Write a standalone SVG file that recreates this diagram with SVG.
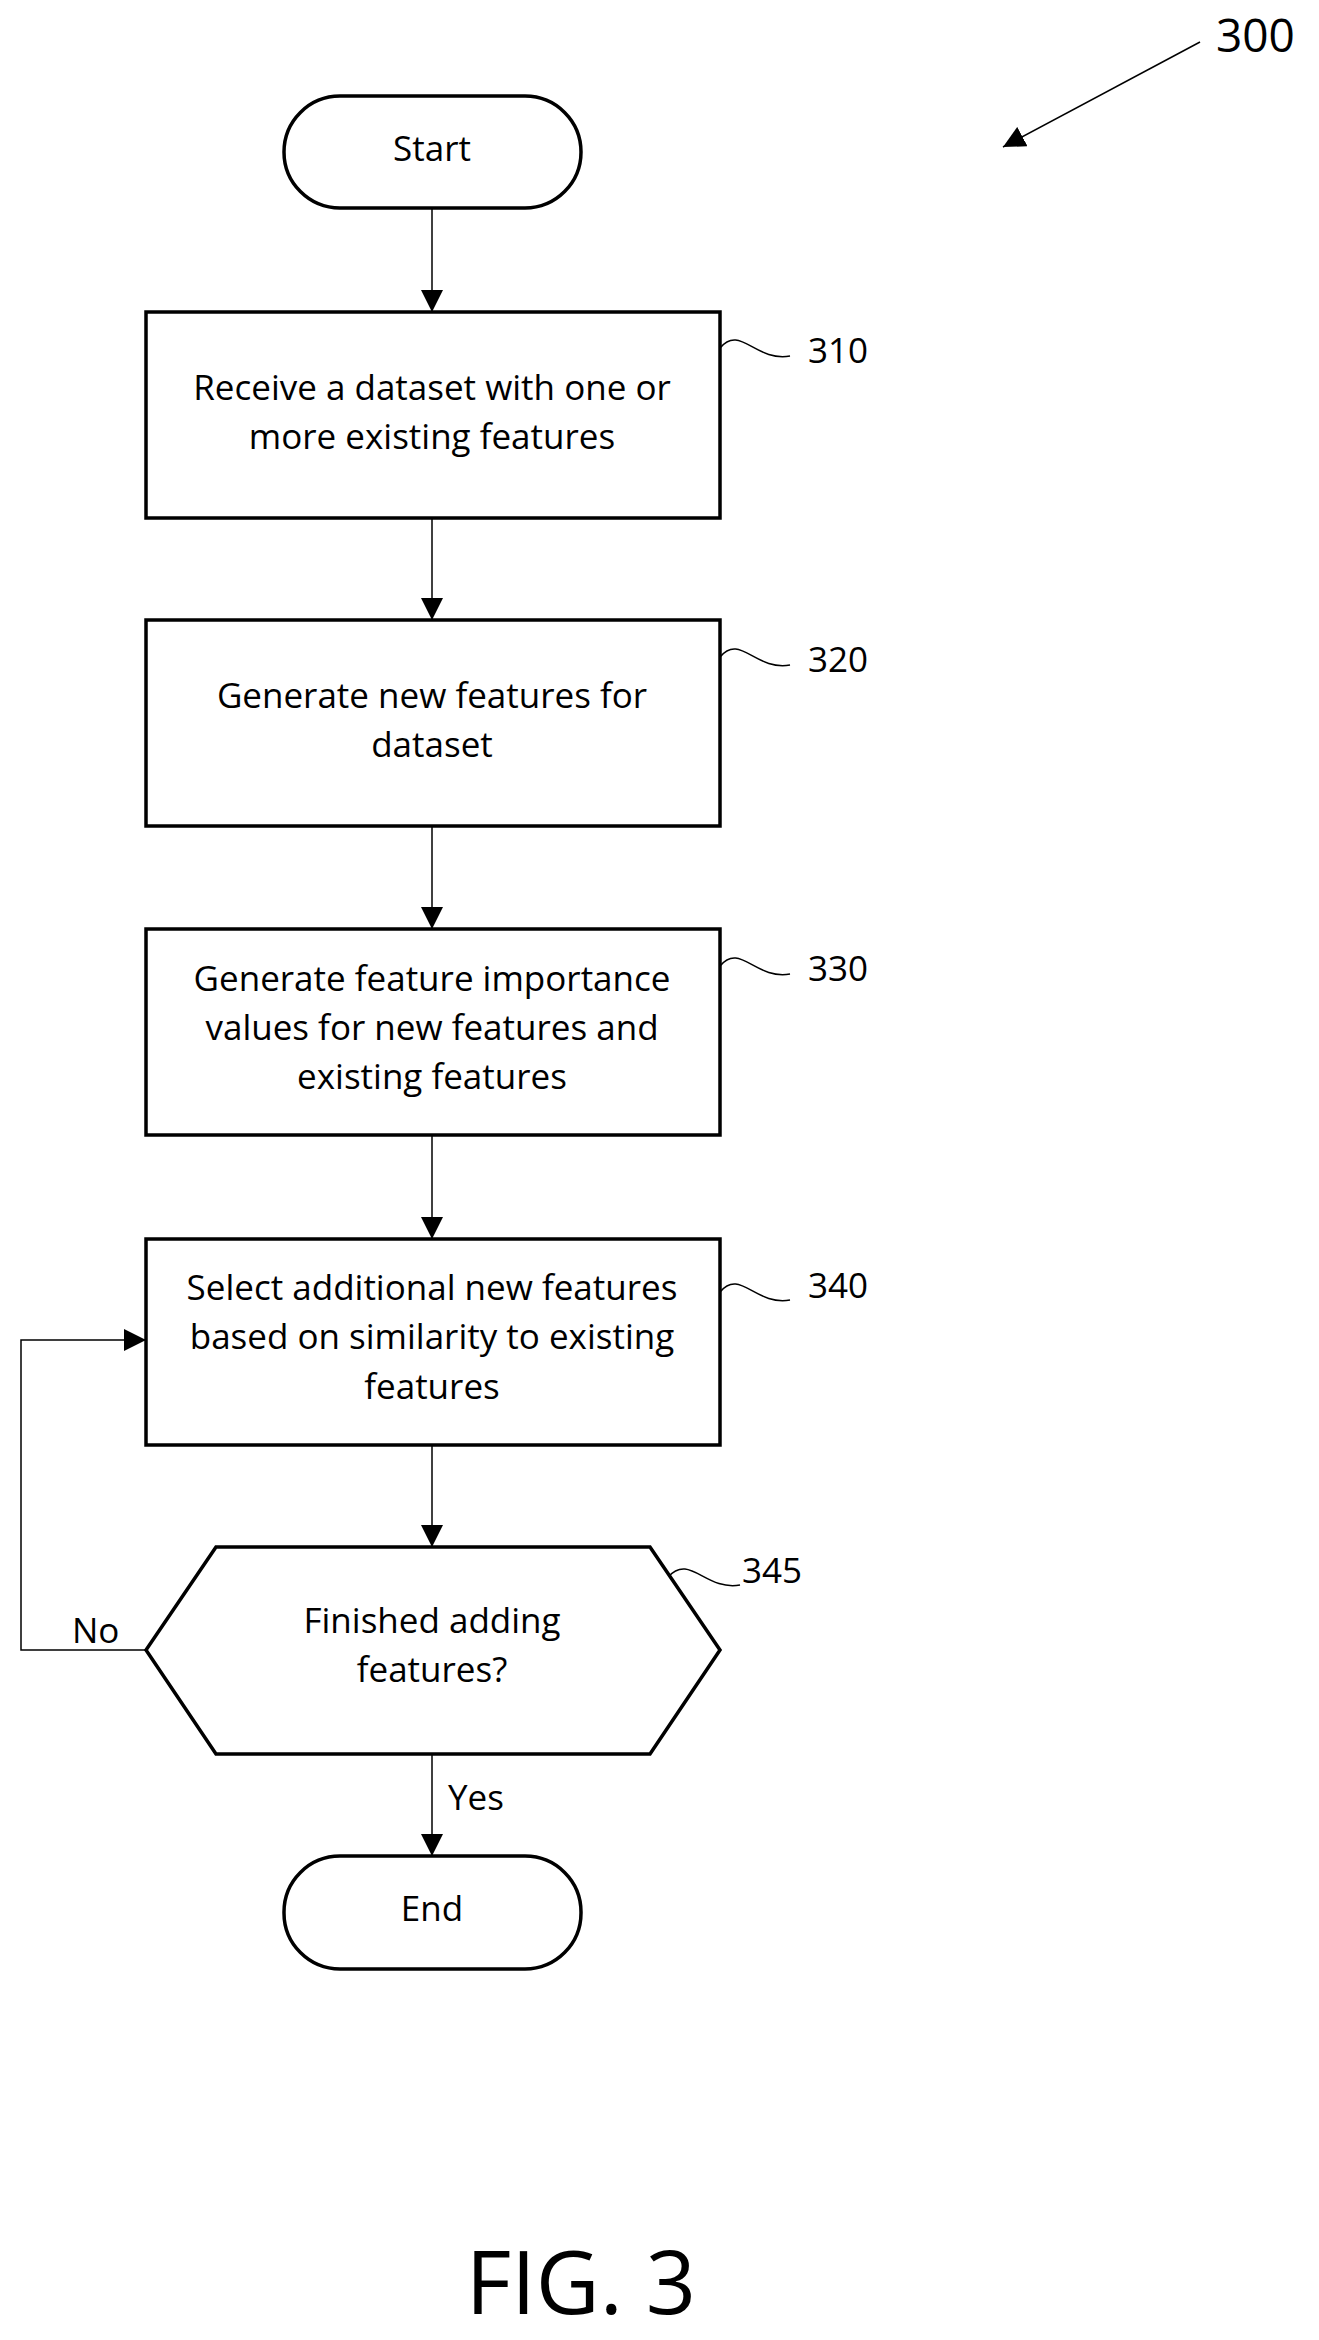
<svg xmlns="http://www.w3.org/2000/svg" width="1319" height="2340" viewBox="0 0 1319 2340">
<style>
.n{fill:#fff;stroke:#000;stroke-width:3.5}
.c{fill:none;stroke:#000;stroke-width:1.5}
.t{font-family:"Open Sans","Liberation Sans",sans-serif;font-size:35px;text-anchor:middle;dominant-baseline:middle;fill:#000}
.l{font-family:"Open Sans","Liberation Sans",sans-serif;font-size:35px;dominant-baseline:middle;fill:#000}
</style>
<defs><marker id="b" markerWidth="22" markerHeight="22" refX="22" refY="11" orient="auto" markerUnits="userSpaceOnUse" viewBox="0 0 22 22"><path d="M0,0L22,11L0,22z"/></marker></defs>
<rect width="1319" height="2340" fill="#fff"/>
<g id="connectors">
<line class="c" x1="432" y1="206" x2="432" y2="312" marker-end="url(#b)"/>
<line class="c" x1="432" y1="518" x2="432" y2="620" marker-end="url(#b)"/>
<line class="c" x1="432" y1="826" x2="432" y2="929" marker-end="url(#b)"/>
<line class="c" x1="432" y1="1135" x2="432" y2="1239" marker-end="url(#b)"/>
<line class="c" x1="432" y1="1445" x2="432" y2="1547" marker-end="url(#b)"/>
<line class="c" x1="432" y1="1754" x2="432" y2="1856" marker-end="url(#b)"/>
<polyline class="c" points="146,1650 21,1650 21,1340 146,1340" marker-end="url(#b)"/>
<line class="c" x1="1200" y1="42" x2="1003" y2="147" marker-end="url(#b)"/>
<path class="c" d="M720,348 C740,324 755,362 790,356"/>
<path class="c" d="M720,657 C740,633 755,671 790,665"/>
<path class="c" d="M720,966 C740,942 755,980 790,974"/>
<path class="c" d="M720,1292 C740,1268 755,1306 790,1300"/>
<path class="c" d="M668,1577 C690,1553 705,1591 740,1585"/>
<text class="l" x="72" y="1634">No</text>
<text class="l" x="448" y="1801">Yes</text>
</g>
<g id="start"><rect class="n" x="284" y="96" width="297" height="112" rx="56"/><text class="t" x="432" y="152">Start</text></g>
<g id="n310"><rect class="n" x="146" y="312" width="574" height="206"/><text class="t" x="432" y="391">Receive a dataset with one or</text><text class="t" x="432" y="440">more existing features</text><text class="l" x="808" y="354">310</text></g>
<g id="n320"><rect class="n" x="146" y="620" width="574" height="206"/><text class="t" x="432" y="699">Generate new features for</text><text class="t" x="432" y="748">dataset</text><text class="l" x="808" y="663">320</text></g>
<g id="n330"><rect class="n" x="146" y="929" width="574" height="206"/><text class="t" x="432" y="982">Generate feature importance</text><text class="t" x="432" y="1031">values for new features and</text><text class="t" x="432" y="1080">existing features</text><text class="l" x="808" y="972">330</text></g>
<g id="n340"><rect class="n" x="146" y="1239" width="574" height="206"/><text class="t" x="432" y="1291">Select additional new features</text><text class="t" x="432" y="1340">based on similarity to existing</text><text class="t" x="432" y="1390">features</text><text class="l" x="808" y="1289">340</text></g>
<g id="n345"><polygon class="n" points="216,1547 650,1547 720,1650 650,1754 216,1754 146,1650"/><text class="t" x="432" y="1624">Finished adding</text><text class="t" x="432" y="1673">features?</text><text class="l" x="742" y="1574">345</text></g>
<g id="end"><rect class="n" x="284" y="1856" width="297" height="113" rx="56"/><text class="t" x="432" y="1912">End</text></g>
<text class="l" x="1216" y="40" style="font-size:46px">300</text>
<text class="t" x="581" y="2290" style="font-size:88px">FIG. 3</text>
</svg>
